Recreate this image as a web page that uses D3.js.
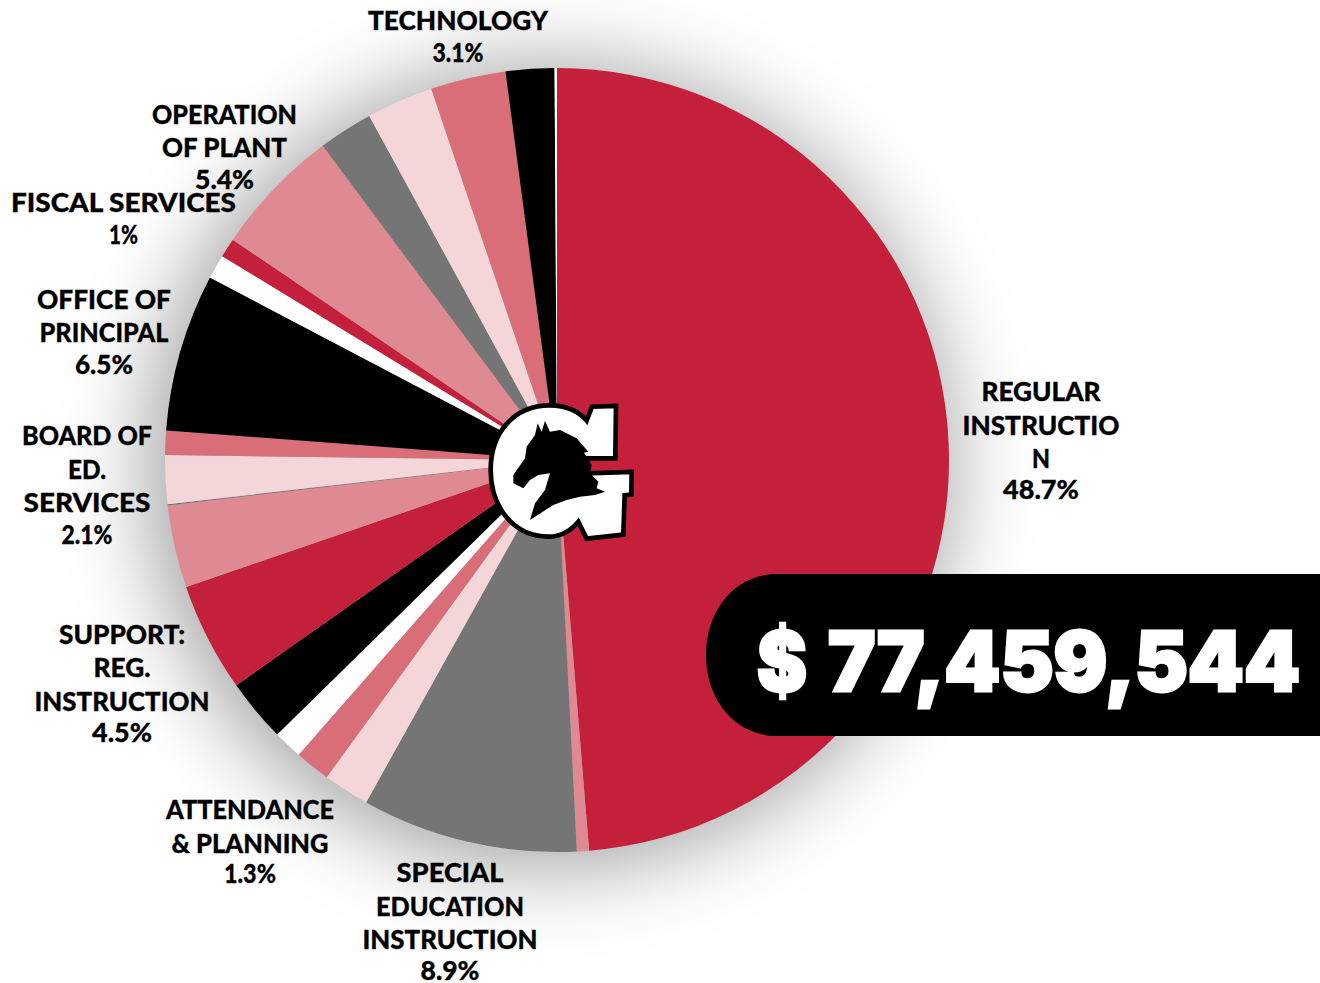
<!DOCTYPE html>
<html><head><meta charset="utf-8">
<script src="https://cdn.jsdelivr.net/npm/d3@7/dist/d3.min.js"></script>
<style>html,body{margin:0;padding:0;background:#fff;overflow:hidden}svg{display:block}</style>
</head><body><svg id="c" width="1320" height="983"></svg>
<script>
const sliceValues = [48.7,0.5,8.9,1.9,1.46,1.2,2.6,4.5,3.4,0.05,2.0,1.0,6.5,1.0,0.8,5.3,2.25,2.75,3.1,2.0,0.1];
const sliceColors = ["#c41f3b","#df8a93","#757575","#f4d5d8","#d96e78","#ffffff","#000000","#c41f3b","#df8a93","#757575","#f4d5d8","#d96e78","#000000","#ffffff","#c41f3b","#df8a93","#757575","#f4d5d8","#d96e78","#000000","#ffffff"];
const labelLines = [
 ["REGULAR","INSTRUCTIO","N","48.7%"],
 ["SPECIAL","EDUCATION","INSTRUCTION","8.9%"],
 ["ATTENDANCE","& PLANNING","1.3%"],
 ["SUPPORT:","REG.","INSTRUCTION","4.5%"],
 ["BOARD OF","ED.","SERVICES","2.1%"],
 ["OFFICE OF","PRINCIPAL","6.5%"],
 ["FISCAL SERVICES","1%"],
 ["OPERATION","OF PLANT","5.4%"],
 ["TECHNOLOGY","3.1%"]
];
const labelX = [1041,450,250,122,87,104,123.5,224.5,458];
const labelBaselines = [
 [401,435,468,499],[882,916,949,980],[819,853,883],[644,677,711,742],
 [445,479,512,544],[309,342,374],[212,244],[124,157,189],[30,62]
];
const labelWidths = [
 [119,157,18,76],[107,148,175,59],[168,157,52],[126,57,175,60],
 [130,38,127,51],[134,129,58],[225,29],[145,125,59],[180,51]
];
const totalText = ["$","77,459,544"];

const svg = d3.select("#c");
const cx=557, cy=460, R=392;
const defs = svg.append("defs");
defs.append("filter").attr("id","sh").attr("x","-30%").attr("y","-30%").attr("width","160%").attr("height","160%")
  .append("feGaussianBlur").attr("stdDeviation",42);

svg.append("circle").attr("cx",cx-8).attr("cy",cy+6).attr("r",R+10)
  .attr("fill","#000").attr("fill-opacity",0.36).attr("filter","url(#sh)");

const pie = d3.pie().sort(null).value(d=>d);
const arc = d3.arc().innerRadius(0).outerRadius(R);
svg.append("g").attr("transform",`translate(${cx},${cy})`)
  .selectAll("path").data(pie(sliceValues)).join("path")
  .attr("d",arc).attr("fill",(d,i)=>sliceColors[i]);

const lg = svg.append("g").attr("font-family","Lato, sans-serif").attr("font-weight",900)
  .attr("text-anchor","middle").attr("fill","#000").attr("stroke","#000").attr("stroke-width",0.3);
labelLines.forEach((lines,i)=>{
  lines.forEach((t,j)=>{
    lg.append("text").attr("x",labelX[i]).attr("y",labelBaselines[i][j])
      .attr("font-size",t.endsWith("%")?27:26)
      .attr("textLength",labelWidths[i][j]).attr("lengthAdjust","spacingAndGlyphs").text(t);
  });
});

// Pill with total
svg.append("path").attr("d","M1320 574 L777 574 C735 574 706 610 706 655 C706 700 735 736 777 736 L1320 736 Z")
  .attr("fill","#000");
const tg = svg.append("g").attr("font-family","Inter, sans-serif").attr("font-weight",900)
  .attr("font-size",82).attr("fill","#fff").attr("stroke","#fff").attr("stroke-width",3).attr("stroke-linejoin","miter");
tg.append("text").attr("x",757).attr("y",691).attr("textLength",50).attr("lengthAdjust","spacingAndGlyphs").text(totalText[0]);
tg.append("text").attr("x",828).attr("y",691).attr("textLength",472).attr("lengthAdjust","spacingAndGlyphs").text(totalText[1]);

// Logo
const logo = svg.append("g").attr("transform","translate(470,390) scale(0.3333)");
logo.append("path").attr("d","M240 46 C288 46 328 64 350 92 L366 50 L438 48 L436 205 L346 205 L350 250 L485 246 L484 314 L464 316 L460 434 L350 446 L325 395 C300 425 270 440 235 440 C130 440 62 350 62 240 C62 130 130 46 240 46 Z")
  .attr("fill","#fff").attr("stroke","#000").attr("stroke-width",14).attr("stroke-linejoin","miter");
logo.append("path").attr("d","M195 135 L203 100 L215 125 L225 92 L240 125 L270 120 L320 145 L355 185 L342 188 L365 225 L360 250 L385 275 L380 295 L405 305 L375 315 L330 320 L290 330 L250 345 L180 390 L195 340 L225 300 L240 250 L205 255 L180 270 L160 295 L130 280 L130 255 L165 205 L170 170 Z")
  .attr("fill","#000");
</script></body></html>
